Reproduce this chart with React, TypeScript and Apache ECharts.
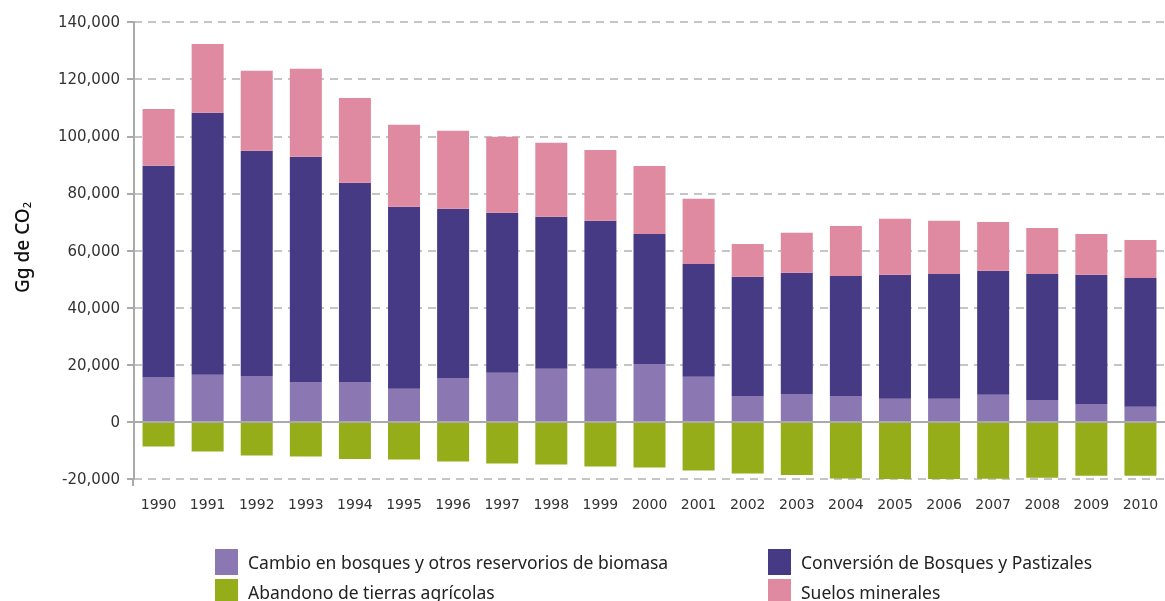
import React, { useEffect, useRef } from "react";
import * as echarts from "echarts";

const years = ["1990","1991","1992","1993","1994","1995","1996","1997","1998","1999","2000","2001","2002","2003","2004","2005","2006","2007","2008","2009","2010"];
const cambio = [15500,16500,16100,14000,14000,11600,15400,17200,18600,18600,20300,15800,9100,9800,9100,8100,8100,9500,7700,6300,5300];
const conversion = [74200,91700,78800,78800,69700,63700,59200,56000,53200,51800,45500,39500,41700,42400,42000,43400,43700,43400,44100,45200,45100];
const suelos = [19800,24100,28000,30800,29700,28700,27300,26600,25900,24800,23800,22800,11500,14000,17500,19600,18600,17100,16100,14300,13300];
const abandono = [-8600,-10400,-11800,-12100,-13000,-13200,-13900,-14600,-14900,-15600,-16000,-17000,-18100,-18600,-19800,-20600,-20600,-19900,-19600,-18900,-18900];

const names = [
  "Cambio en bosques y otros reservorios de biomasa",
  "Conversión de Bosques y Pastizales",
  "Suelos minerales",
  "Abandono de tierras agrícolas",
];
const colors = ["#8b78b2", "#463a84", "#df8aa0", "#94ad19"];

export default function App() {
  const ref = useRef<HTMLDivElement>(null);
  useEffect(() => {
    if (!ref.current) return;
    const chart = echarts.init(ref.current, null, { renderer: "svg" });
    const font = "'DejaVu Sans', sans-serif";
    const mk = (i: number, data: number[], extra: any = {}) => ({
      name: names[i],
      type: "bar",
      stack: "total",
      barWidth: 32,
      data,
      itemStyle: { color: colors[i] },
      ...extra,
    });
    const legendBase = {
      orient: "vertical",
      top: 549,
      height: 70,
      padding: 0,
      itemWidth: 23,
      itemHeight: 26,
      itemGap: 4,
      icon: "rect",
      textStyle: { fontFamily: "Noto Sans", fontSize: 17.5, color: "#222", padding: [0, 0, 0, 5] },
    };
    chart.setOption({
      animation: false,
      textStyle: { fontFamily: font },
      grid: { left: 134, top: 22, width: 1042, height: 457, containLabel: false },
      graphic: [
        {
          type: "line",
          shape: { x1: 133, y1: 479, x2: 133, y2: 486 },
          style: { stroke: "#aaa", lineWidth: 2 },
        },
      ],
      legend: [
        { ...legendBase, data: [names[0], names[3]], left: 215 },
        { ...legendBase, data: [names[1], names[2]], left: 768 },
      ],
      xAxis: {
        type: "category",
        data: years,
        axisLine: { show: false, onZero: false },
        axisTick: { show: false },
        axisLabel: { color: "#333", fontSize: 14, fontFamily: font, margin: 18 },
      },
      yAxis: {
        type: "value",
        min: -20000,
        max: 140000,
        interval: 20000,
        name: "Gg de CO{sub|2}",
        nameLocation: "middle",
        nameRotate: 90,
        nameGap: 102,
        nameTextStyle: {
          color: "#111",
          fontSize: 19,
          fontFamily: "Noto Sans",
          fontWeight: 500,
          padding: [0, 0, 0, 6],
          rich: { sub: { fontSize: 11, fontFamily: "Noto Sans", color: "#111", padding: [9, 0, 0, 0] } },
        },
        axisLine: { show: true, lineStyle: { color: "#aaa", width: 2 } },
        axisTick: { show: true, length: 7, lineStyle: { color: "#aaa", width: 2 } },
        axisLabel: {
          color: "#333",
          fontSize: 15,
          fontFamily: font,
          margin: 14,
          formatter: (v: number) => v.toLocaleString("en-US"),
        },
        splitLine: { show: true, lineStyle: { color: "#b3b3b3", width: 1.5, type: [8, 6] } },
      },
      series: [
        mk(0, cambio),
        mk(1, conversion),
        mk(2, suelos),
        mk(3, abandono, {
          markLine: {
            silent: true,
            symbol: "none",
            label: { show: false },
            lineStyle: { color: "#aaa", width: 2, type: "solid" },
            data: [{ yAxis: 0 }],
          },
        }),
      ],
    });
    return () => chart.dispose();
  }, []);
  return <div ref={ref} style={{ position: "fixed", left: 0, top: 0, width: 1165, height: 601 }} />;
}
